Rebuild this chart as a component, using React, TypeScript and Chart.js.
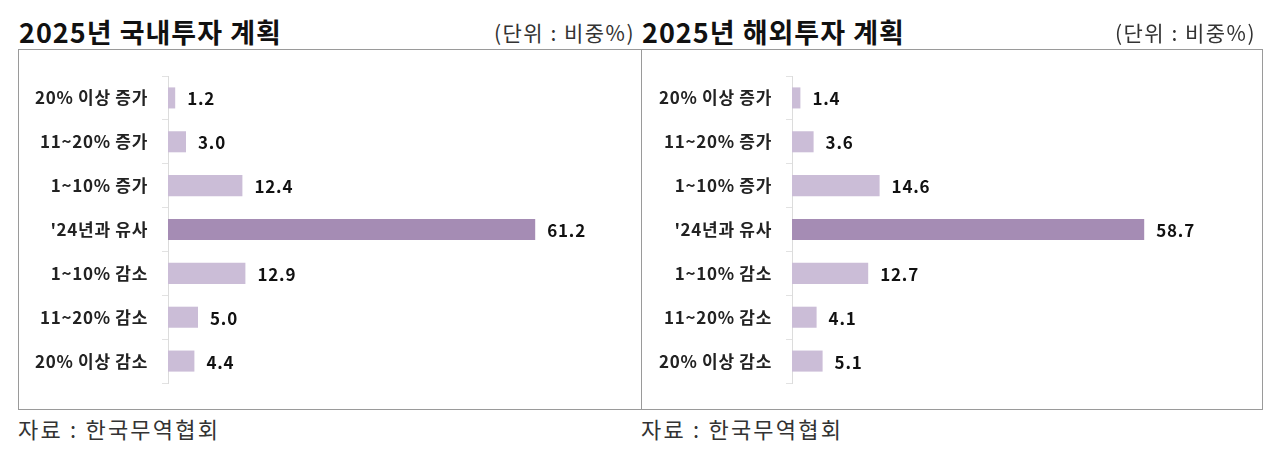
import React, { useEffect, useRef } from "react";
import { Chart, registerables } from "chart.js";

Chart.register(...registerables);

const categories = [
  "20% 이상 증가",
  "11~20% 증가",
  "1~10% 증가",
  "'24년과 유사",
  "1~10% 감소",
  "11~20% 감소",
  "20% 이상 감소",
];
const domesticValues = [1.2, 3.0, 12.4, 61.2, 12.9, 5.0, 4.4];
const overseasValues = [1.4, 3.6, 14.6, 58.7, 12.7, 4.1, 5.1];
const domesticTitle = "2025년 국내투자 계획";
const overseasTitle = "2025년 해외투자 계획";
const unitText = "(단위 : 비중%)";
const sourceText = "자료 : 한국무역협회";
const xMax = 75;

const FONT = "'Noto Sans CJK KR', 'Noto Sans', sans-serif";
const DARK = "#a58cb4";
const LIGHT = "#cbbdd7";

const spacingPlugin = {
  id: "letterSpacing",
  beforeDraw(chart: any) {
    (chart.ctx as any).letterSpacing = "0.7px";
  },
};

const valueLabelPlugin = {
  id: "valueLabels",
  afterDatasetsDraw(chart: any) {
    const ctx = chart.ctx;
    const meta = chart.getDatasetMeta(0);
    const data = chart.data.datasets[0].data as number[];
    ctx.save();
    (ctx as any).letterSpacing = "0.8px";
    ctx.font = `bold 17px ${FONT}`;
    ctx.fillStyle = "#111";
    ctx.textAlign = "left";
    ctx.textBaseline = "middle";
    meta.data.forEach((bar: any, i: number) => {
      ctx.fillText(data[i].toFixed(1), bar.x + 12, bar.y + 1);
    });
    ctx.restore();
  },
};

function Panel(props: {
  left: number;
  width: number;
  axisOffset: number;
  title: string;
  values: number[];
}) {
  const ref = useRef<HTMLCanvasElement | null>(null);
  const { left, width, axisOffset, title, values } = props;
  const height = 361;

  useEffect(() => {
    if (!ref.current) return;
    const chart = new Chart(ref.current, {
      type: "bar",
      data: {
        labels: categories,
        datasets: [
          {
            data: values,
            backgroundColor: categories.map((c) => (c.startsWith("'24") ? DARK : LIGHT)),
            borderWidth: 0,
            barPercentage: 0.48,
            categoryPercentage: 1,
          },
        ],
      },
      options: {
        indexAxis: "y",
        animation: false,
        responsive: false,
        maintainAspectRatio: false,
        layout: {
          padding: { top: 27, bottom: 27, right: width - axisOffset - xMax * 6, left: 0 },
        },
        plugins: {
          legend: { display: false },
          tooltip: { enabled: false },
        },
        scales: {
          x: { display: false, min: 0, max: xMax },
          y: {
            afterFit: (s: any) => {
              s.width = axisOffset;
            },
            border: { display: true, color: "#dcdcdc", width: 1 },
            grid: {
              offset: true,
              drawOnChartArea: false,
              drawTicks: true,
              tickLength: 6,
              color: "#e2e2e2",
            },
            ticks: {
              padding: 14,
              color: "#222",
              font: { family: FONT, size: 17, weight: "bold" },
            },
          },
        },
      },
      plugins: [spacingPlugin, valueLabelPlugin],
    } as any);
    return () => chart.destroy();
  }, []);

  return (
    <>
      <div
        style={{
          position: "absolute",
          left: left + 1,
          top: 18,
          fontFamily: FONT,
          fontWeight: 700,
          fontSize: 27,
          lineHeight: "27px",
          color: "#111",
          whiteSpace: "nowrap",
          letterSpacing: "1px",
        }}
      >
        {title}
      </div>
      <div
        style={{
          position: "absolute",
          left: left,
          width: width - 7,
          top: 22,
          textAlign: "right",
          fontFamily: FONT,
          fontSize: 21,
          lineHeight: "21px",
          color: "#333",
          whiteSpace: "nowrap",
          letterSpacing: "1.5px",
        }}
      >
        {unitText}
      </div>
      <div
        style={{
          position: "absolute",
          left: left,
          top: 49,
          width: width,
          height: height,
          border: "1px solid #9a9a9a",
          boxSizing: "border-box",
        }}
      />
      <canvas
        ref={ref}
        width={width}
        height={height}
        style={{ position: "absolute", left: left, top: 49, width: width, height: height }}
      />
      <div
        style={{
          position: "absolute",
          left: left,
          top: 417,
          fontFamily: FONT,
          fontSize: 22,
          lineHeight: "22px",
          color: "#333",
          whiteSpace: "nowrap",
          letterSpacing: "2.2px",
        }}
      >
        {sourceText}
      </div>
    </>
  );
}

export default function App() {
  useEffect(() => {
    document.body.style.margin = "0";
  }, []);
  return (
    <div
      style={{
        position: "relative",
        width: 1280,
        height: 451,
        background: "#fff",
        overflow: "hidden",
      }}
    >
      <Panel left={18} width={624} axisOffset={150} title={domesticTitle} values={domesticValues} />
      <Panel left={641} width={622} axisOffset={151} title={overseasTitle} values={overseasValues} />
    </div>
  );
}
